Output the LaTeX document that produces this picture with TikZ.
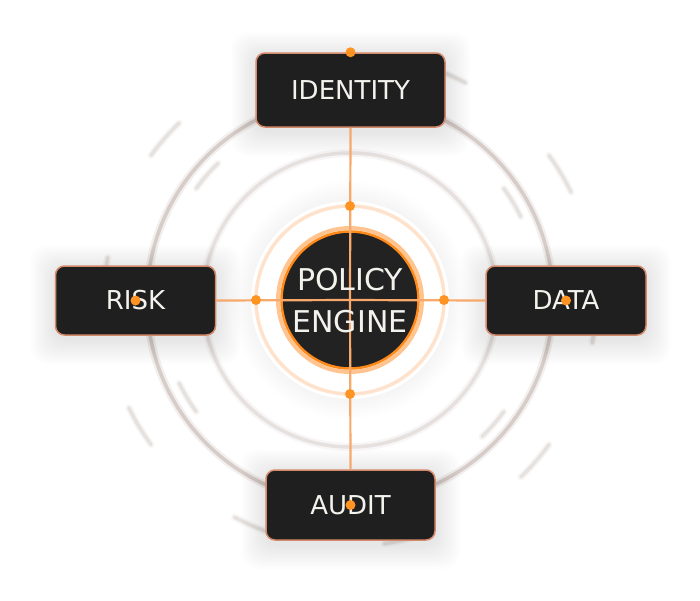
\documentclass[tikz,border=0pt]{standalone}
\usepackage{fontspec}
\setmainfont{DejaVu Sans}
\usetikzlibrary{calc}
\definecolor{boxfill}{HTML}{1F1F1F}
\definecolor{boxline}{HTML}{D4896A}
\definecolor{txt}{HTML}{F4F2EC}
\definecolor{linec}{HTML}{F7A86B}
\definecolor{dotc}{HTML}{FF9422}
\definecolor{ringpale}{HTML}{FFE2CC}
\definecolor{engc}{HTML}{FF8A1A}
\definecolor{halo}{HTML}{FFC490}
\definecolor{engfill}{HTML}{222222}
\definecolor{ringo}{HTML}{D6CCC8}
\definecolor{ringi}{HTML}{E6E1DE}
\definecolor{dashc}{HTML}{E6E2E0}
\pgfdeclarelayer{bg}
\pgfdeclarelayer{shad}
\pgfsetlayers{bg,shad,main}
\begin{document}
\begin{tikzpicture}[x=1pt,y=-1pt,
  box/.style={draw=boxline, line width=1.5pt, fill=boxfill, rounded corners=9pt,
    text=txt, font=\fontsize{26}{30}\selectfont, inner sep=0pt},
  dot/.style={circle, fill=dotc, inner sep=0pt, minimum size=10pt},
  conn/.style={draw=linec, line width=2.2pt},
  arcd/.style={draw=dashc, line width=3.5pt, line cap=round},
  arcblur/.style={draw=dashc, line width=7pt, line cap=round, opacity=0.3}]
\useasboundingbox (0,0) rectangle (700,600);
\coordinate (c) at (350,300);

% background rings
\begin{pgfonlayer}{bg}
\fill[white] (0,0) rectangle (700,600);
\draw[ringo, line width=8pt, opacity=0.3] (c) circle[radius=203];
\draw[ringo, line width=3.5pt] (c) circle[radius=203];
\draw[ringi, line width=8pt, opacity=0.3] (c) circle[radius=147];
\draw[ringi, line width=3.5pt] (c) circle[radius=147];
\foreach \a in {26,62,...,350}{
  \draw[arcblur] ($(c)+(-\a:246)$) arc[start angle=-\a, end angle=-\a-10, radius=246];
  \draw[arcd] ($(c)+(-\a:246)$) arc[start angle=-\a, end angle=-\a-10, radius=246];
}
\foreach \a in {26,134,206,314}{
  \draw[arcblur] ($(c)+(-\a:190)$) arc[start angle=-\a, end angle=-\a-10, radius=190];
  \draw[arcd] ($(c)+(-\a:190)$) arc[start angle=-\a, end angle=-\a-10, radius=190];
}
\foreach \i in {1,...,10}
  \fill[black, opacity=0.005] (c) circle[radius=99+2*\i];
\fill[white] (c) circle[radius=99];
\end{pgfonlayer}

% central engine
\draw[ringpale, line width=3.5pt] (c) circle[radius=94];
\draw[halo, line width=4pt] (c) circle[radius=72];
\node[circle, fill=engfill, draw=engc, line width=2.5pt, minimum size=137pt, inner sep=0pt] (engine) at (c) {};

% boxes
\node[box, minimum width=189pt, minimum height=74pt] (identity) at (350.5,90) {IDENTITY};
\node[box, minimum width=160pt, minimum height=69pt] (risk) at (135.5,300.5) {RISK};
\node[box, minimum width=160pt, minimum height=69pt] (data) at (566,300.5) {DATA};
\node[box, minimum width=169pt, minimum height=70pt] (audit) at (350.5,505) {AUDIT};

\begin{pgfonlayer}{shad}
\foreach \nm in {identity,risk,data,audit}{
  \foreach \i in {1,...,12}{
    \fill[black, opacity=0.006, rounded corners=16pt]
      ($(\nm.south west)+(-2*\i,2*\i+4)$) rectangle ($(\nm.north east)+(2*\i,-2*\i+4)$);
  }
}
\end{pgfonlayer}

% connectors
\draw[conn] (identity.south) -- (engine.center) -- (audit.north);
\draw[conn] (risk.east) -- (engine.center) -- (data.west);

\node[text=txt, font=\fontsize{30}{42}\selectfont, align=center, inner sep=0pt] (enginelabel) at (350,301) {POLICY\\ENGINE};

% dots
\node[dot] (dtop) at (identity.north) {};
\node[dot] (drisk) at (risk.center) {};
\node[dot] (ddata) at (data.center) {};
\node[dot] (daudit) at (audit.center) {};
\node[dot] (rn) at ($(c)+(0,-94)$) {};
\node[dot] (rs) at ($(c)+(0,94)$) {};
\node[dot] (rw) at ($(c)+(-94,0)$) {};
\node[dot] (re) at ($(c)+(94,0)$) {};
\end{tikzpicture}
\end{document}
